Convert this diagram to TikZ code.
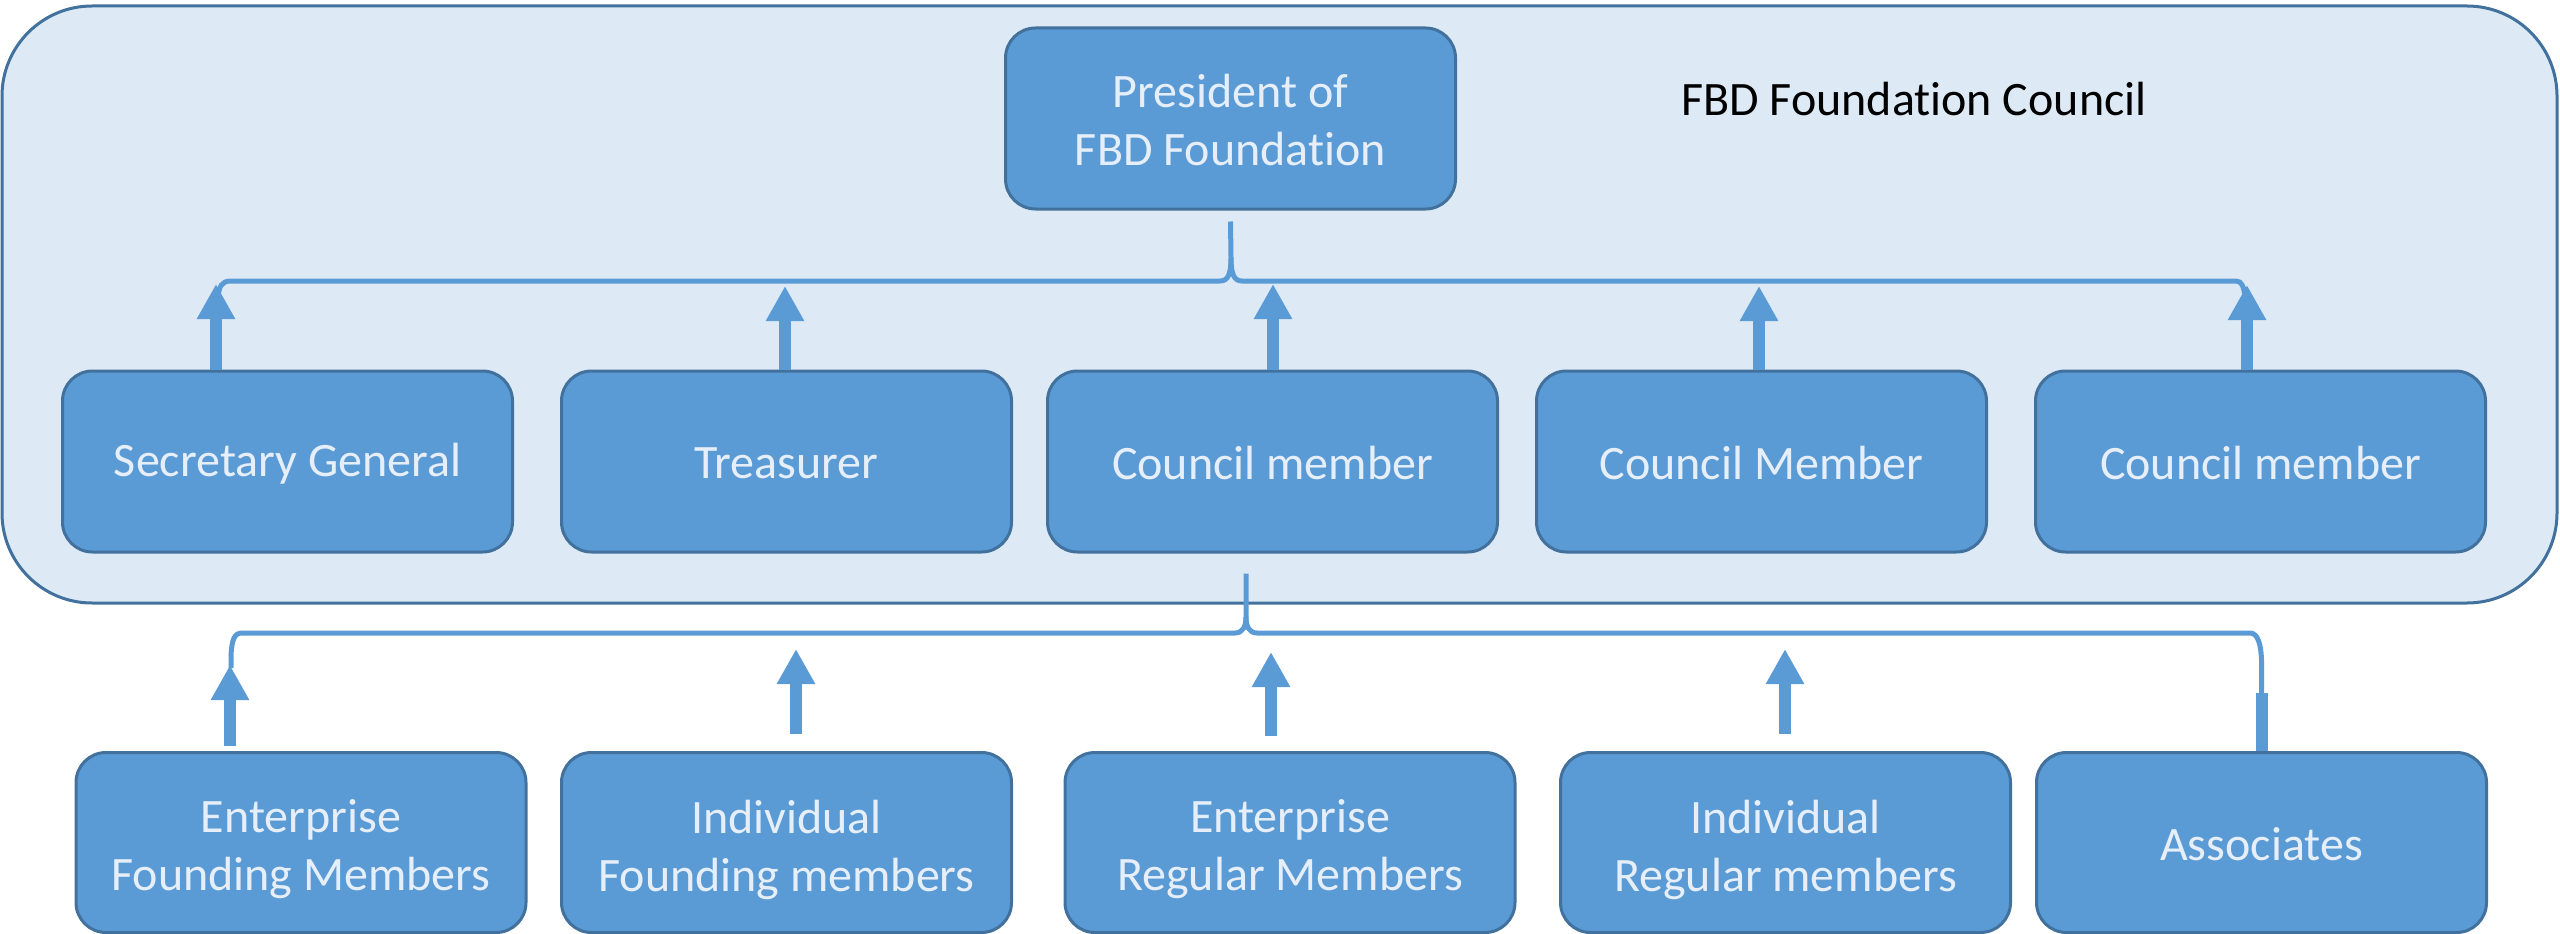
\documentclass[tikz,border=0pt]{standalone}
\usepackage{fontspec}
\setmainfont{Carlito}[Ligatures=NoCommon]
\usetikzlibrary{arrows.meta,calc}
\newcommand{\brkti}{t\kern0pt i}
\definecolor{boxfill}{HTML}{5B9BD5}
\definecolor{boxline}{HTML}{41719C}
\definecolor{panelfill}{HTML}{DDEAF6}
\definecolor{boxtext}{HTML}{E6EFF9}
\tikzset{
  panelbox/.style={draw=boxline, fill=panelfill, line width=3pt, rounded corners=90pt, inner sep=0pt},
  orgbox/.style={draw=boxline, fill=boxfill, line width=3pt, rounded corners=30pt,
    minimum width=450pt, inner sep=0pt},
  boxlabel/.style={text=boxtext, align=center, inner sep=0pt,
    font=\fontsize{48}{58}\selectfont},
  toprow/.style={orgbox, minimum height=181pt},
  botrow/.style={orgbox, minimum height=180pt},
  bracketline/.style={draw=boxfill, line width=5pt},
  uparrow/.style={draw=boxfill, line width=12pt, -{Triangle[width=36pt,length=35pt]}},
  stubline/.style={draw=boxfill, line width=12pt}
}
\begin{document}
\begin{tikzpicture}[x=1pt,y=-1pt]
\useasboundingbox (0,0) rectangle (2560,934);

% container
\node[panelbox, minimum width=2555pt, minimum height=597pt] (council) at (1279.5,304.5) {};
\node[anchor=base, font=\fontsize{48}{58}\selectfont, text=black] (title) at (1914,115) {FBD Founda\brkti on Council};

% president
\node[toprow, label={[boxlabel, yshift=-2pt]center:{President of\\FBD Founda\brkti on}}] (pres) at (1230.5,118.5) {};

% council row
\node[toprow, label={[boxlabel, yshift=-2pt]center:{Secretary General}}] (sec) at (287.5,461.5) {};
\node[toprow, label={[boxlabel, yshift=-2pt]center:{Treasurer}}] (treas) at (786.5,461.5) {};
\node[toprow, label={[boxlabel, yshift=-2pt]center:{Council member}}] (cma) at (1272.5,461.5) {};
\node[toprow, label={[boxlabel, yshift=-2pt]center:{Council Member}}] (cmb) at (1761.5,461.5) {};
\node[toprow, label={[boxlabel, yshift=-2pt]center:{Council member}}] (cmc) at (2260.5,461.5) {};

% member row
\node[botrow, label={[boxlabel, yshift=-7pt]center:{Enterprise\\Founding Members}}] (efm) at (301,842.5) {};
\node[botrow, label={[boxlabel, yshift=-7pt]center:{Individual\\Founding members}}] (ifm) at (786.5,842.5) {};
\node[botrow, label={[boxlabel, yshift=-7pt]center:{Enterprise\\Regular Members}}] (erm) at (1290,842.5) {};
\node[botrow, label={[boxlabel, yshift=-7pt]center:{Individual\\Regular members}}] (irm) at (1785.5,842.5) {};
\node[botrow, label={[boxlabel, yshift=-2pt]center:{Associates}}] (assoc) at (2261.5,842.5) {};

% ---- upper bracket ----
\coordinate (ucusp) at (1231,258);
\coordinate (utop) at ($(pres.south)+(0,11)$);
\draw[bracketline] (218,298) .. controls (219,287) and (221,281) .. (231,281)
  -- (1220,281) .. controls (1228,281) and (1231,274) .. (ucusp) -- (utop);
\draw[bracketline] (ucusp) .. controls (1231,274) and (1234,281) .. (1242,281)
  -- (2236,281) .. controls (2242,281) and (2244,287) .. (2245,298);

\coordinate (ta) at (216,284);
\coordinate (tb) at (785,286);
\coordinate (tc) at (1273,284);
\coordinate (td) at (1759,286);
\coordinate (te) at (2247,285);
\draw[uparrow] (sec.north -| ta) -- (ta);
\draw[uparrow] (treas.north -| tb) -- (tb);
\draw[uparrow] (cma.north -| tc) -- (tc);
\draw[uparrow] (cmb.north -| td) -- (td);
\draw[uparrow] (cmc.north -| te) -- (te);

% ---- lower bracket ----
\coordinate (lcusp) at (1246,617);
\coordinate (ltop) at ($(cma.south)+(-26.5,20)$);
\draw[bracketline] (231,668) -- (231,655) .. controls (232,640) and (234,633) .. (242,633)
  -- (1235,633) .. controls (1243,633) and (1246,626) .. (lcusp) -- (ltop);
\draw[bracketline] (lcusp) .. controls (1246,626) and (1249,633) .. (1257,633)
  -- (2250,633) .. controls (2258,633) and (2261,645) .. (2261.5,660) -- (2261.5,695);

\coordinate (ba) at (230,665);
\coordinate (bb) at (796,649);
\coordinate (bc) at (1271,652);
\coordinate (bd) at (1785,649);
\coordinate (be) at (2261.5,693);
\draw[uparrow] ($(efm.north -| ba)+(0,-5)$) -- (ba);
\draw[uparrow] ($(ifm.north -| bb)+(0,-17)$) -- (bb);
\draw[uparrow] ($(erm.north -| bc)+(0,-15)$) -- (bc);
\draw[uparrow] ($(irm.north -| bd)+(0,-17)$) -- (bd);
\draw[stubline] (assoc.north -| be) -- (be);
\end{tikzpicture}
\end{document}
